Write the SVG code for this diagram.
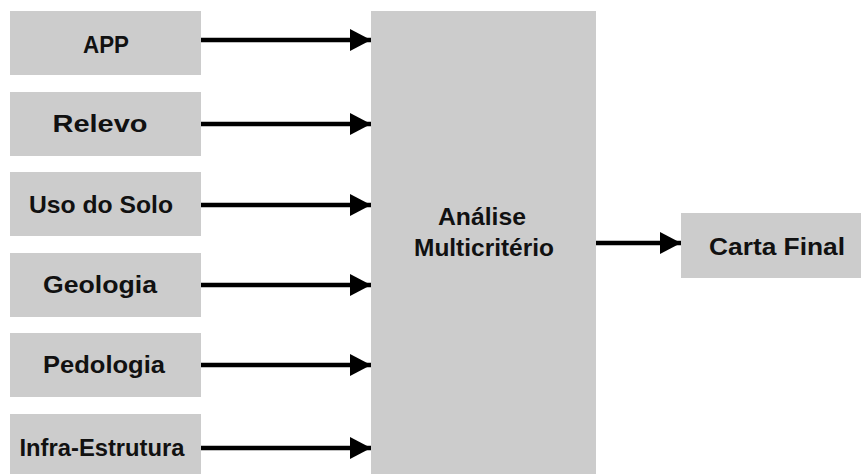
<svg xmlns="http://www.w3.org/2000/svg" width="861" height="474" viewBox="0 0 861 474">
  <style>
    .box { fill: #cccccc; }
    .lbl { font-family: "Liberation Sans", Arial, sans-serif; font-weight: bold; font-size: 24.5px; fill: #111111; text-anchor: middle; }
    .edge { stroke: #000000; stroke-width: 4.5; fill: none; }
  </style>
  <defs>
    <marker id="arrow" markerUnits="userSpaceOnUse" markerWidth="22" markerHeight="22" refX="21" refY="11" orient="auto">
      <path d="M0,0 L21,11 L0,22 Z" fill="#000000"/>
    </marker>
  </defs>
  <rect width="861" height="474" fill="#ffffff"/>

  <!-- input layers -->
  <g id="app">
    <rect class="box" x="10" y="11" width="191" height="64"/>
    <text class="lbl" x="106" y="52.5" textLength="46" lengthAdjust="spacingAndGlyphs">APP</text>
  </g>
  <g id="relevo">
    <rect class="box" x="10" y="92" width="191" height="64"/>
    <text class="lbl" x="100" y="132" textLength="95" lengthAdjust="spacingAndGlyphs">Relevo</text>
  </g>
  <g id="uso-do-solo">
    <rect class="box" x="10" y="172" width="191" height="64"/>
    <text class="lbl" x="101" y="213" textLength="144" lengthAdjust="spacingAndGlyphs">Uso do Solo</text>
  </g>
  <g id="geologia">
    <rect class="box" x="10" y="253" width="191" height="64"/>
    <text class="lbl" x="100" y="293" textLength="114" lengthAdjust="spacingAndGlyphs">Geologia</text>
  </g>
  <g id="pedologia">
    <rect class="box" x="10" y="333" width="191" height="64"/>
    <text class="lbl" x="104" y="373" textLength="122" lengthAdjust="spacingAndGlyphs">Pedologia</text>
  </g>
  <g id="infra-estrutura">
    <rect class="box" x="10" y="414" width="191" height="64"/>
    <text class="lbl" x="102" y="456" textLength="165" lengthAdjust="spacingAndGlyphs">Infra-Estrutura</text>
  </g>

  <!-- combination step -->
  <g id="analise">
    <rect class="box" x="371" y="11" width="225" height="470"/>
    <text class="lbl" x="482" y="225" textLength="88" lengthAdjust="spacingAndGlyphs">Análise</text>
    <text class="lbl" x="484" y="256" textLength="140" lengthAdjust="spacingAndGlyphs">Multicritério</text>
  </g>

  <!-- result -->
  <g id="carta-final">
    <rect class="box" x="681" y="213" width="190" height="65"/>
    <text class="lbl" x="777" y="255" textLength="136" lengthAdjust="spacingAndGlyphs">Carta Final</text>
  </g>

  <g id="connectors">
    <line class="edge" x1="201" y1="40" x2="371" y2="40" marker-end="url(#arrow)"/>
    <line class="edge" x1="201" y1="124" x2="371" y2="124" marker-end="url(#arrow)"/>
    <line class="edge" x1="201" y1="205" x2="371" y2="205" marker-end="url(#arrow)"/>
    <line class="edge" x1="201" y1="285" x2="371" y2="285" marker-end="url(#arrow)"/>
    <line class="edge" x1="201" y1="365" x2="371" y2="365" marker-end="url(#arrow)"/>
    <line class="edge" x1="201" y1="448" x2="371" y2="448" marker-end="url(#arrow)"/>
    <line class="edge" x1="596" y1="243" x2="681" y2="243" marker-end="url(#arrow)"/>
  </g>
</svg>
